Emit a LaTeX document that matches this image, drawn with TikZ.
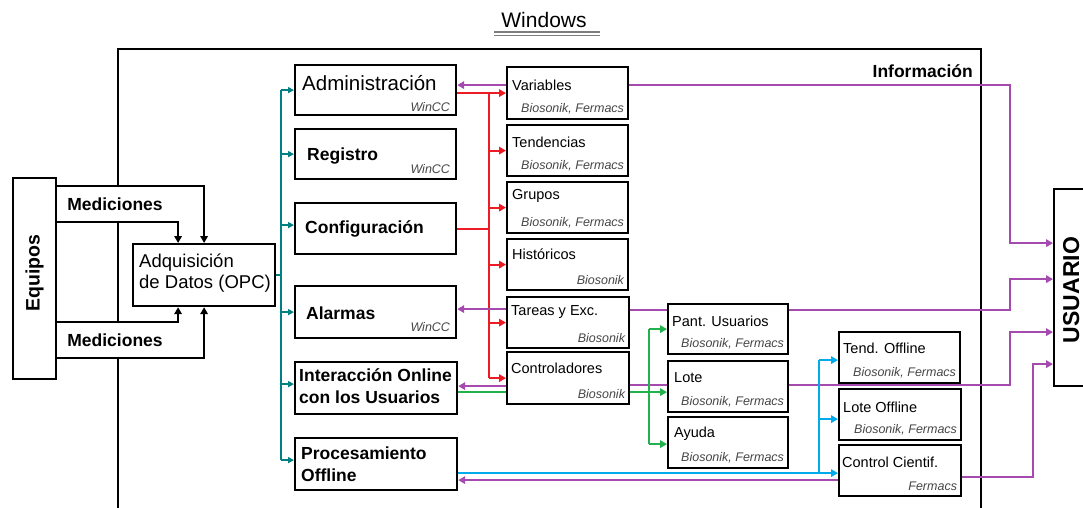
\documentclass[tikz,border=0pt]{standalone}
\usepackage{fontspec}
\setmainfont{Liberation Sans}
\usetikzlibrary{arrows.meta,calc,backgrounds,positioning}

\definecolor{busteal}{RGB}{0,128,128}
\definecolor{busred}{RGB}{237,28,36}
\definecolor{infomag}{RGB}{165,75,175}
\definecolor{ongreen}{RGB}{34,177,76}
\definecolor{offblue}{RGB}{0,170,235}
\definecolor{subgray}{RGB}{70,70,70}
\definecolor{ulgray}{RGB}{125,125,125}

\tikzset{
  modbox/.style={draw, line width=2.2pt, fill=white, inner sep=0pt, anchor=north west},
  bigtxt/.style={font=\fontsize{17.5}{22}\selectfont\bfseries, inner sep=0pt, align=left},
  regtxt/.style={font=\fontsize{18.5}{21}\selectfont, inner sep=0pt, align=left},
  smalltxt/.style={font=\fontsize{14.5}{17}\selectfont, inner sep=0pt, anchor=west},
  subtxt/.style={font=\fontsize{12.5}{15}\selectfont\itshape, text=subgray, inner sep=0pt, anchor=east},
  medlbl/.style={font=\fontsize{17.5}{22}\selectfont\bfseries, fill=white, inner xsep=3pt, inner ysep=0pt, minimum height=34pt},
  headed/.style={-{Triangle[length=7pt,width=7.5pt]}},
  tealhead/.style={-{Triangle[length=6pt,width=6pt]}},
  frame/.style={draw=black, line width=2pt},
  flow/.style={draw=black, line width=2pt},
  tealline/.style={draw=busteal, line width=2pt},
  redline/.style={draw=busred, line width=2pt},
  magline/.style={draw=infomag, line width=1.8pt},
  greenline/.style={draw=ongreen, line width=2pt},
  blueline/.style={draw=offblue, line width=2pt}
}

\begin{document}
\begin{tikzpicture}[x=1pt, y=-1pt]
\useasboundingbox (0,0) rectangle (1083,508);
\clip (0,0) rectangle (1083,508);

% title
\node[font=\fontsize{21}{24}\selectfont, inner sep=0pt] (wintitle) at (544,20) {Windows};
\draw[ulgray, line width=1.3pt] (494,32) -- (600,32) (494,35.5) -- (600,35.5);
\node[bigtxt, anchor=east] (info) at (973,71) {Información};

% outside blocks
\node[modbox, minimum width=43pt, minimum height=201pt] (equipos) at (12,177) {};
\node[bigtxt, rotate=90, font=\fontsize{19.5}{22}\selectfont\bfseries] (equipos-t) at ($(equipos.center)+(0,-5.5)$) {Equipos};
\node[modbox, minimum width=40pt, minimum height=197pt] (usuario) at (1053,188) {};
\node[bigtxt, rotate=90, font=\fontsize{23}{26}\selectfont\bfseries] (usuario-t) at ($(usuario.center)+(-3,2.5)$) {USUARIO};

\node[medlbl] (med1) at (115,204) {Mediciones};
\node[medlbl] (med2) at (115,340) {Mediciones};

\node[modbox, minimum width=142pt, minimum height=62pt] (adq) at (132,243) {};
\node[regtxt, anchor=west] (adq-t) at ($(adq.west)+(7,-1.5)$) {Adquisición\\de Datos (OPC)};

% first column
\node[modbox, minimum width=161pt, minimum height=50pt] (admin) at (294,64) {};
\node[modbox, minimum width=161pt, minimum height=50pt] (regis) at (294,128) {};
\node[modbox, minimum width=161pt, minimum height=51pt] (config) at (294,202) {};
\node[modbox, minimum width=161pt, minimum height=52pt] (alarm) at (294,285) {};
\node[modbox, minimum width=162pt, minimum height=52pt] (inter) at (294,361) {};
\node[modbox, minimum width=162pt, minimum height=52pt] (proc) at (294,437) {};

\node[regtxt, anchor=west, font=\fontsize{20.5}{23}\selectfont] (admin-t) at ($(admin.north west)+(8,19)$) {Administración};
\node[subtxt] (admin-s) at ($(admin.south east)+(-7,-9)$) {WinCC};
\node[bigtxt, anchor=west] (regis-t) at ($(regis.west)+(13,2)$) {Registro};
\node[subtxt] (regis-s) at ($(regis.south east)+(-7,-11)$) {WinCC};
\node[bigtxt, anchor=west] (config-t) at ($(config.west)+(11,0)$) {Configuración};
\node[bigtxt, anchor=west] (alarm-t) at ($(alarm.west)+(12,1)$) {Alarmas};
\node[subtxt] (alarm-s) at ($(alarm.south east)+(-7,-12)$) {WinCC};
\node[bigtxt, anchor=west] (inter-t) at ($(inter.west)+(5,-1.5)$) {Interacción Online\\con los Usuarios};
\node[bigtxt, anchor=west] (proc-t) at ($(proc.west)+(7,0)$) {Procesamiento\\Offline};

% second, third and fourth column
\node[modbox, minimum width=121pt, minimum height=52pt] (vars) at (506,66) {};
\node[modbox, minimum width=121pt, minimum height=51pt] (tend) at (506,124) {};
\node[modbox, minimum width=121pt, minimum height=51pt] (grup) at (506,181) {};
\node[modbox, minimum width=121pt, minimum height=51pt] (hist) at (506,238) {};
\node[modbox, minimum width=122pt, minimum height=51pt] (tarea) at (506,296) {};
\node[modbox, minimum width=122pt, minimum height=52pt] (ctrl) at (506,351) {};
\node[modbox, minimum width=120pt, minimum height=50pt] (pant) at (667,303) {};
\node[modbox, minimum width=120pt, minimum height=51pt] (lote) at (667,360) {};
\node[modbox, minimum width=120pt, minimum height=51pt] (ayuda) at (667,416) {};
\node[modbox, minimum width=121pt, minimum height=51pt] (tendoff) at (838,331) {};
\node[modbox, minimum width=122pt, minimum height=51pt] (loteoff) at (838,388) {};
\node[modbox, minimum width=122pt, minimum height=51pt] (ccient) at (838,444) {};

\foreach \nm/\lbl/\sub/\dx/\dy in {
  vars/Variables/{Biosonik, Fermacs}/6/19,
  tend/Tendencias/{Biosonik, Fermacs}/6/18,
  grup/Grupos/{Biosonik, Fermacs}/6/15,
  hist/Históricos/Biosonik/6/16,
  tarea/Tareas y Exc./Biosonik/5/16,
  ctrl/Controladores/Biosonik/5/17,
  pant/Pant. Usuarios/{Biosonik, Fermacs}/5/18,
  lote/Lote/{Biosonik, Fermacs}/7/18,
  ayuda/Ayuda/{Biosonik, Fermacs}/7/18,
  tendoff/Tend. Offline/{Biosonik, Fermacs}/5/17,
  loteoff/Lote Offline/{Biosonik, Fermacs}/5/19,
  ccient/Control Cientif./Fermacs/4/18}
{
  \node[smalltxt] (\nm-t) at ($(\nm.north west)+(\dx,\dy)$) {\lbl};
  \node[subtxt] (\nm-s) at ($(\nm.south east)+(-5,-11)$) {\sub};
}

\begin{scope}[on background layer]
% Windows frame
\draw[frame] (118,508) -- (118,49) -- (981,49) -- (981,508);

% measurements
\draw[flow,headed] (equipos.east |- 0,186) -| (adq.north);
\draw[flow,headed] (equipos.east |- 0,222) -| ([xshift=-26pt]adq.north);
\draw[flow,headed] (equipos.east |- 0,322) -| ([xshift=-26pt]adq.south);
\draw[flow,headed] (equipos.east |- 0,358) -| (adq.south);

% OPC bus
\coordinate (tbus) at ($(admin.west)+(-13,0)$);
\draw[tealline] (adq.east) -- (adq.east -| tbus);
\draw[tealline] (tbus) -- ($(proc.west)+(-13,-4)$);
\foreach \nm/\dy in {admin/0, regis/0, config/-3.5, alarm/0, inter/-4, proc/-4}
  \draw[tealline,tealhead] ($(\nm.west)+(-13,\dy)$) -- ($(\nm.west)+(0,\dy)$);

% configuration
\coordinate (rbus) at ($(vars.west)+(-17,0)$);
\draw[redline,headed] (admin.east |- vars.west) -- (vars.west);
\draw[redline] (config.east) -- (config.east -| rbus);
\draw[redline] (rbus) -- (rbus |- ctrl.west);
\foreach \nm in {tend, grup, hist, tarea, ctrl}
  \draw[redline,headed] (rbus |- \nm.west) -- (\nm.west);

% information
\foreach \src/\dst/\dy in {vars/admin/-8, tarea/alarm/-13.5, ctrl/inter/8, ccient/proc/9.5} {
  \coordinate (\src-m) at ($(\src.west)+(0,\dy)$);
  \draw[magline,headed] (\src-m) -- (\src-m -| \dst.east);
}
\foreach \src/\dy/\xc/\du in {vars/-8/1010/-44.5, tarea/-12.5/1010/-8.5, ctrl/7/1010/44.5, ccient/6.5/1033/76.5} {
  \coordinate (\src-o) at ($(\src.east)+(0,\dy)$);
  \coordinate (\src-u) at ($(usuario.west)+(0,\du)$);
  \draw[magline,headed] (\src-o) -| (\xc,0 |- \src-u) -- (\src-u);
}

% online interaction
\coordinate (gbus) at ($(pant.west)+(-18,0)$);
\coordinate (inter-g) at ($(inter.east)+(0,4)$);
\draw[greenline,headed] (inter-g) -- (inter-g -| lote.west);
\draw[greenline] (gbus) -- ($(ayuda.west)+(-18,1.5)$);
\draw[greenline,headed] (gbus) -- (pant.west);
\draw[greenline,headed] ($(ayuda.west)+(-18,1.5)$) -- ($(ayuda.west)+(0,1.5)$);

% offline processing
\coordinate (proc-b) at ($(proc.east)+(0,9)$);
\coordinate (bbus) at ($(tendoff.west)+(-19,2.5)$);
\draw[blueline,headed] (proc-b) -- (proc-b -| ccient.west);
\draw[blueline] (bbus) -- (bbus |- proc-b);
\draw[blueline,headed] (bbus) -- ($(tendoff.west)+(0,2.5)$);
\draw[blueline,headed] ($(loteoff.west)+(-19,4.5)$) -- ($(loteoff.west)+(0,4.5)$);
\end{scope}

\end{tikzpicture}
\end{document}
